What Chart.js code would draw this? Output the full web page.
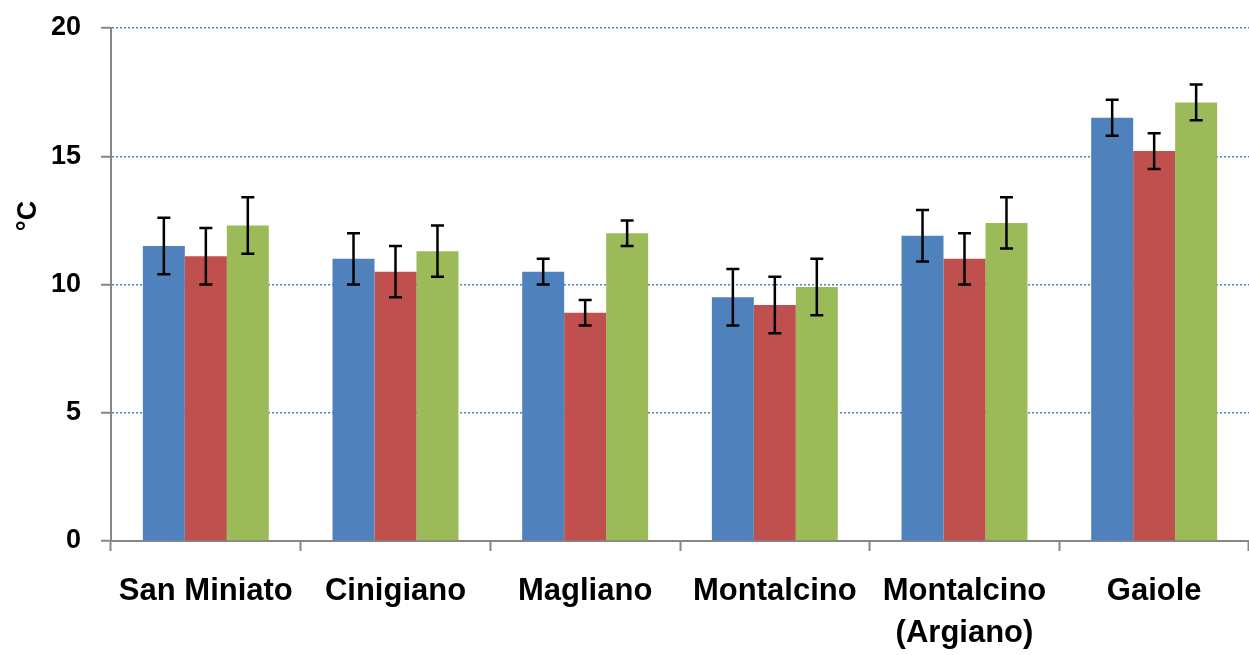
<!DOCTYPE html>
<html>
<head>
<meta charset="utf-8">
<script src="https://cdn.jsdelivr.net/npm/chart.js@4"></script>
<style>
  html, body { margin: 0; padding: 0; background: #fff; }
  #wrap { width: 1249px; height: 655px; }
</style>
</head>
<body>
<div id="wrap"><canvas id="tempChart" width="1249" height="655"></canvas></div>
<script>
const sites = ['San Miniato', 'Cinigiano', 'Magliano', 'Montalcino', ['Montalcino', '(Argiano)'], 'Gaiole'];
const blueVals = [11.5, 11.0, 10.5, 9.5, 11.9, 16.5];
const redVals = [11.1, 10.5, 8.9, 9.2, 11.0, 15.2];
const greenVals = [12.3, 11.3, 12.0, 9.9, 12.4, 17.1];
const blueErr = [1.1, 1.0, 0.5, 1.1, 1.0, 0.7];
const redErr = [1.1, 1.0, 0.5, 1.1, 1.0, 0.7];
const greenErr = [1.1, 1.0, 0.5, 1.1, 1.0, 0.7];
const yTicks = [0, 5, 10, 15, 20];
const yTitle = '°C';

const errors = [blueErr, redErr, greenErr];

// draws the black error bars on top of each bar
const errorBars = {
    id: 'errorBars',
    afterDatasetsDraw(chart) {
        const ctx = chart.ctx;
        const y = chart.scales.y;
        ctx.save();
        ctx.strokeStyle = '#000';
        ctx.lineWidth = 2.5;
        chart.data.datasets.forEach((ds, i) => {
            const meta = chart.getDatasetMeta(i);
            meta.data.forEach((bar, j) => {
                const v = ds.data[j];
                const e = errors[i][j];
                const top = y.getPixelForValue(v + e);
                const bot = y.getPixelForValue(v - e);
                ctx.beginPath();
                ctx.moveTo(bar.x, top);
                ctx.lineTo(bar.x, bot);
                ctx.moveTo(bar.x - 6.5, top);
                ctx.lineTo(bar.x + 6.5, top);
                ctx.moveTo(bar.x - 6.5, bot);
                ctx.lineTo(bar.x + 6.5, bot);
                ctx.stroke();
            });
        });
        ctx.restore();
    }
};

// axis title sits above the middle in the original
const axisTitle = {
    id: 'axisTitle',
    afterDraw(chart) {
        const ctx = chart.ctx;
        ctx.save();
        ctx.translate(29, 216);
        ctx.rotate(-Math.PI / 2);
        ctx.font = 'bold 27px "Liberation Sans", Arial, sans-serif';
        ctx.fillStyle = '#000';
        ctx.textAlign = 'center';
        ctx.textBaseline = 'middle';
        ctx.fillText(yTitle, 0, 0);
        ctx.restore();
    }
};

new Chart(document.getElementById('tempChart'), {
    type: 'bar',
    data: {
        labels: sites,
        datasets: [
            { data: blueVals, backgroundColor: '#4F81BD' },
            { data: redVals, backgroundColor: '#C0504D' },
            { data: greenVals, backgroundColor: '#9BBB59' }
        ]
    },
    options: {
        responsive: false,
        animation: false,
        layout: { padding: { top: 28, right: 0, left: 0, bottom: 0 } },
        categoryPercentage: 0.664,
        barPercentage: 1.0,
        plugins: {
            legend: { display: false },
            tooltip: { enabled: false }
        },
        scales: {
            x: {
                grid: {
                    offset: true,
                    drawOnChartArea: false,
                    drawTicks: true,
                    tickLength: 10,
                    tickColor: '#868686',
                    tickWidth: 2
                },
                border: { color: '#868686', width: 2 },
                ticks: {
                    color: '#000',
                    padding: 20,
                    font: { family: '"Liberation Sans", Arial, sans-serif', size: 31, weight: 'bold', lineHeight: 1.35 },
                    maxRotation: 0,
                    autoSkip: false
                },
                afterFit(scale) { scale.height = 114; }
            },
            y: {
                min: 0,
                max: 20,
                afterBuildTicks(scale) { scale.ticks = yTicks.map(v => ({ value: v })); },
                grid: {
                    color: ctx => ctx.tick && ctx.tick.value === 0 ? 'rgba(0,0,0,0)' : '#4F81BD',
                    lineWidth: 1.5,
                    tickLength: 10,
                    tickColor: '#868686',
                    tickWidth: 2
                },
                border: { color: '#868686', width: 2, dash: [2, 2] },
                ticks: {
                    color: '#000',
                    padding: 20,
                    font: { family: '"Liberation Sans", Arial, sans-serif', size: 27, weight: 'bold' }
                },
                afterFit(scale) {
                    scale.width = 111;
                    scale.paddingTop = 0;
                    scale.paddingBottom = 0;
                }
            }
        }
    },
    plugins: [errorBars, axisTitle]
});
</script>
</body>
</html>
